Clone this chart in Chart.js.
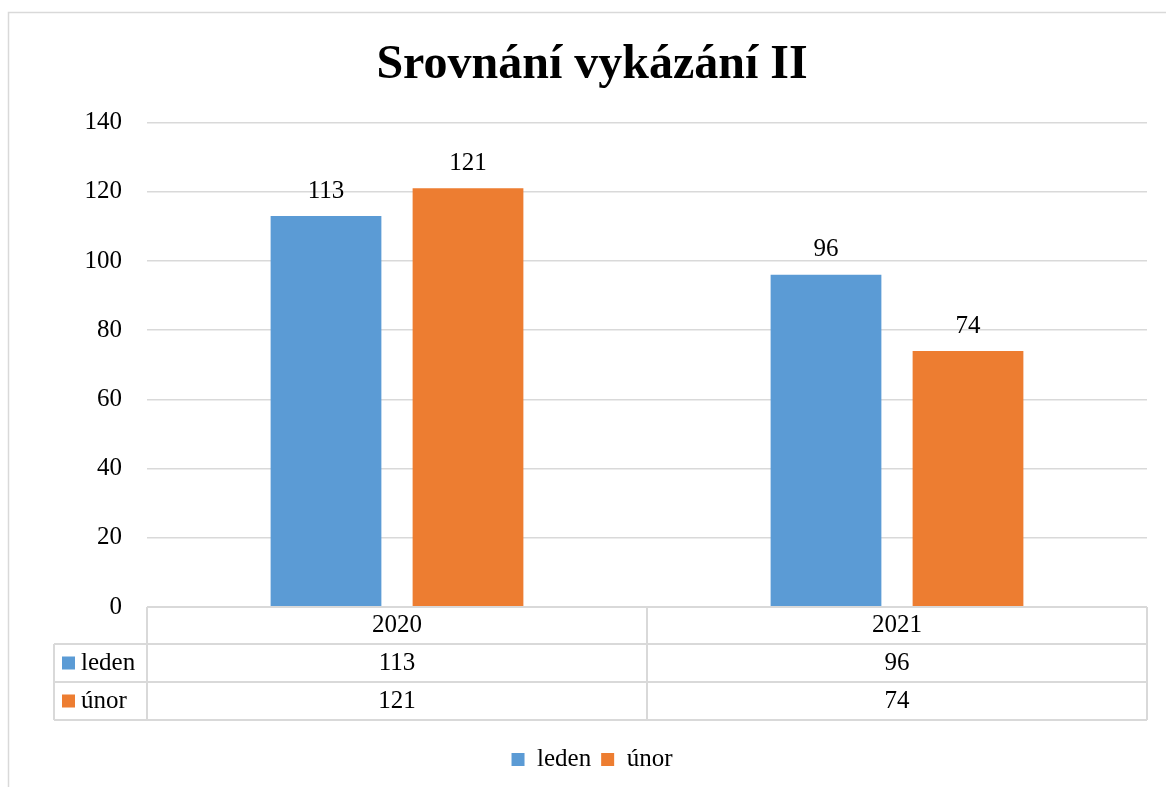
<!DOCTYPE html>
<html>
<head>
<meta charset="utf-8">
<script src="https://cdn.jsdelivr.net/npm/chart.js@4.4.0/dist/chart.umd.min.js"></script>
<style>
  html, body { margin: 0; padding: 0; background: #fff; }
  #wrap { width: 1166px; height: 787px; }
</style>
</head>
<body>
<div id="wrap"><canvas id="chart" width="1166" height="787"></canvas></div>
<script>
// data
const years = ['2020', '2021'];
const seriesNames = ['leden', 'únor'];
const leden = [113, 96];
const unor = [121, 74];
const yTicks = { min: 0, max: 140, step: 20 };

const FONT = '"Liberation Serif", "Times New Roman", serif';
const GRID = '#d9d9d9';
const colors = ['#5b9bd5', '#ed7d31'];

// light grey frame around the whole chart
const framePlugin = {
    id: 'frame',
    beforeDraw(chart) {
        const ctx = chart.ctx;
        ctx.save();
        ctx.fillStyle = '#fff';
        ctx.fillRect(0, 0, chart.width, chart.height);
        ctx.strokeStyle = GRID;
        ctx.lineWidth = 1.5;
        ctx.strokeRect(8.5, 12.5, chart.width + 20, chart.height + 20);
        ctx.restore();
    }
};

// numbers above each bar
const valueLabels = {
    id: 'valueLabels',
    afterDatasetsDraw(chart) {
        const ctx = chart.ctx;
        ctx.save();
        ctx.font = '25px ' + FONT;
        ctx.fillStyle = '#000';
        ctx.textAlign = 'center';
        ctx.textBaseline = 'middle';
        chart.data.datasets.forEach((ds, i) => {
            chart.getDatasetMeta(i).data.forEach((bar, j) => {
                ctx.fillText(ds.data[j], bar.x, bar.y - 25);
            });
        });
        ctx.restore();
    }
};

// data table under the plot, like the office chart
const dataTable = {
    id: 'dataTable',
    afterDraw(chart) {
        const ctx = chart.ctx;
        const area = chart.chartArea;
        const x = chart.scales.x;
        const rows = [37, 38, 38];
        const legendLeft = 54;
        const y0 = area.bottom;
        const y1 = y0 + rows[0];
        const y2 = y1 + rows[1];
        const y3 = y2 + rows[2];
        const mid = (x.getPixelForValue(0) + x.getPixelForValue(1)) / 2;

        ctx.save();
        ctx.strokeStyle = GRID;
        ctx.lineWidth = 2;
        ctx.beginPath();
        // horizontal lines
        ctx.moveTo(area.left, y0); ctx.lineTo(area.right, y0);
        [y1, y2, y3].forEach(y => { ctx.moveTo(legendLeft, y); ctx.lineTo(area.right, y); });
        // verticals
        ctx.moveTo(legendLeft, y1); ctx.lineTo(legendLeft, y3);
        [area.left, mid, area.right].forEach(px => { ctx.moveTo(px, y0); ctx.lineTo(px, y3); });
        ctx.stroke();

        ctx.font = '25px ' + FONT;
        ctx.fillStyle = '#000';
        ctx.textBaseline = 'middle';
        ctx.textAlign = 'center';
        const centers = [(y0 + y1) / 2, (y1 + y2) / 2, (y2 + y3) / 2];
        years.forEach((yr, j) => {
            const cx = x.getPixelForValue(j);
            ctx.fillText(yr, cx, centers[0]);
            ctx.fillText(leden[j], cx, centers[1]);
            ctx.fillText(unor[j], cx, centers[2]);
        });
        ctx.textAlign = 'left';
        seriesNames.forEach((name, i) => {
            const cy = centers[i + 1];
            ctx.fillStyle = colors[i];
            ctx.fillRect(legendLeft + 8, cy - 6.5, 13, 13);
            ctx.fillStyle = '#000';
            ctx.fillText(name, legendLeft + 27, cy);
        });
        ctx.restore();
    }
};

const data = {
    labels: years,
    datasets: [{
        label: seriesNames[0],
        data: leden,
        backgroundColor: colors[0],
        borderWidth: 0,
        barPercentage: 0.78,
        categoryPercentage: 0.568
    }, {
        label: seriesNames[1],
        data: unor,
        backgroundColor: colors[1],
        borderWidth: 0,
        barPercentage: 0.78,
        categoryPercentage: 0.568
    }]
};

const config = {
    type: 'bar',
    data: data,
    plugins: [framePlugin, valueLabels, dataTable],
    options: {
        responsive: false,
        animation: false,
        layout: { padding: { top: 0, left: 37, right: 19, bottom: 5 } },
        plugins: {
            title: {
                display: true,
                text: 'Srovnání vykázání II',
                color: '#000',
                font: { family: FONT, size: 48, weight: 'bold' },
                padding: { top: 37, bottom: 28 }
            },
            legend: {
                position: 'bottom',
                labels: {
                    color: '#000',
                    font: { family: FONT, size: 25 },
                    boxWidth: 13,
                    boxHeight: 13,
                    padding: 10
                }
            },
            tooltip: { enabled: false }
        },
        scales: {
            x: {
                grid: { display: false },
                border: { display: false },
                ticks: { display: false },
                afterFit(scale) { scale.height = 130; }
            },
            y: {
                min: yTicks.min,
                max: yTicks.max,
                ticks: {
                    stepSize: yTicks.step,
                    color: '#000',
                    font: { family: FONT, size: 25 },
                    padding: 25
                },
                grid: { color: GRID, lineWidth: 1.5, drawTicks: false },
                border: { display: false },
                afterFit(scale) { scale.width = 110; }
            }
        }
    }
};

new Chart(document.getElementById('chart').getContext('2d'), config);
</script>
</body>
</html>
